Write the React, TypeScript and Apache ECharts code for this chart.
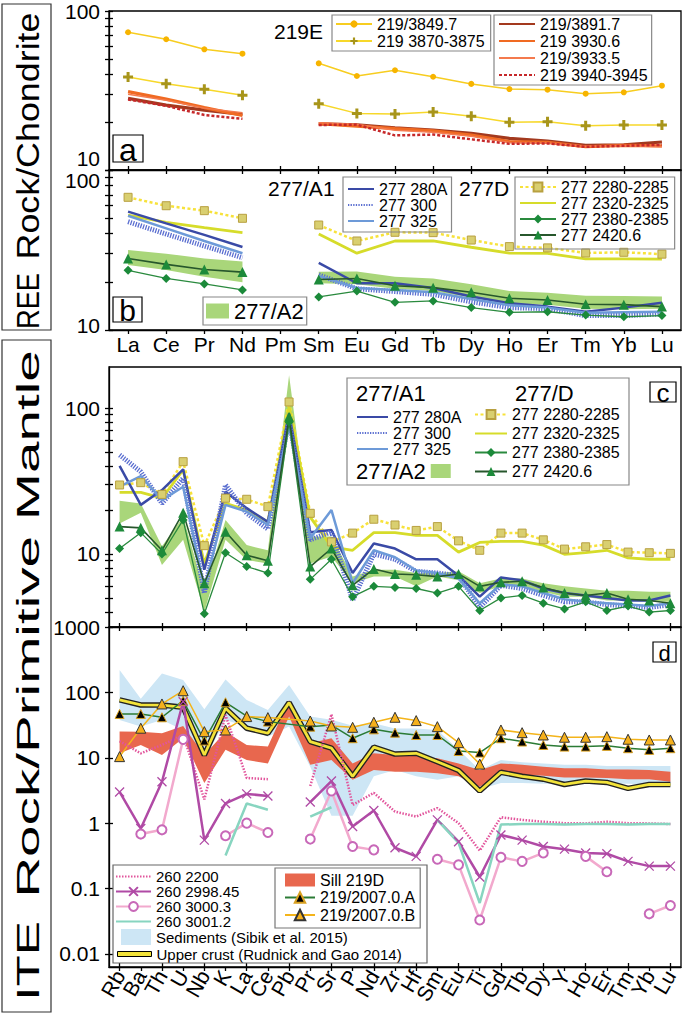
import React, { useEffect, useRef } from 'react';
import * as echarts from 'echarts';

// ---------- categories ----------
const REE_CATS = ['La', 'Ce', 'Pr', 'Nd', 'Pm', 'Sm', 'Eu', 'Gd', 'Tb', 'Dy', 'Ho', 'Er', 'Tm', 'Yb', 'Lu'];
const ITE_CATS = ['Rb', 'Ba', 'Th', 'U', 'Nb', 'K', 'La', 'Ce', 'Pb', 'Pr', 'Sr', 'P', 'Nd', 'Zr', 'Hf', 'Sm', 'Eu', 'Ti', 'Gd', 'Tb', 'Dy', 'Y', 'Ho', 'Er', 'Tm', 'Yb', 'Lu'];

// ---------- tick values / labels ----------
const REE_TICKS = [10, 20, 30, 40, 50, 60, 70, 80, 90, 100];
const REE_LABELS = [10, 100];
const C_TICKS = [4, 5, 6, 7, 8, 9, 10, 20, 30, 40, 50, 60, 70, 80, 90, 100];
const C_LABELS = [10, 100];
const D_TICKS = [0.01, 0.1, 1, 10, 100, 1000];
const D_LABELS = [0.01, 0.1, 1, 10, 100, 1000];

// ---------- panel a (219E, REE / chondrite) ----------
const A_3849_7 = [73.5, 66.4, 57.4, 53.9, null, 46.9, 39.0, 42.4, 38.6, 34.8, 32.3, 32.0, 30.2, 30.8, 33.9];
const A_3870_3875 = [38.5, 34.9, 32.2, 29.5, null, 26.1, 22.7, 22.5, 23.2, 21.8, 20.0, 20.1, 19.0, 19.2, 19.2];
const A_3891_7 = [28.2, 25.6, 23.8, 22.4, null, 19.5, 19.2, 18.4, 17.8, 17.0, 15.8, 15.2, 14.3, 14.4, 15.0];
const A_3930_6 = [31.1, 27.9, 24.7, 22.0, null, 19.6, 18.9, 18.2, 17.6, 16.6, 15.1, 14.9, 14.0, 14.3, 14.2];
const A_3933_5 = [30.0, 27.5, 24.5, 22.9, null, 19.8, 19.4, 17.8, 17.3, 16.3, 14.9, 14.8, 14.1, 14.2, 14.0];
const A_3940_3945 = [27.8, 25.3, 22.2, 21.0, null, 19.2, 19.3, 16.5, 16.7, 15.6, 14.6, 14.7, 14.0, 14.2, 14.4];

// ---------- panel b (277, REE / chondrite) ----------
const B_2280 = [67.5, 59.8, 55.7, 49.9, null, 45.3, 36.0, 40.8, 40.6, 36.5, 33.2, 32.6, 30.3, 30.6, 29.8];
const B_2320 = [52.3, 47.1, 43.6, 40.6, null, 39.8, 30.2, 36.0, 36.0, 32.9, 30.2, 30.1, 27.8, 27.8, 27.7];
const B_280A = [54.9, 46.4, 39.3, 33.0, null, 26.3, 19.6, 19.6, 18.3, 16.2, 14.7, 14.0, 13.0, 13.8, 14.8];
const B_300 = [47.5, 39.8, 33.5, 28.3, null, 22.1, 18.1, 17.4, 16.7, 15.0, 13.8, 13.6, 12.3, 12.3, 12.6];
const B_325 = [51.8, 43.2, 36.0, 30.2, null, 21.8, 18.3, 17.8, 17.2, 15.6, 14.3, 13.8, 12.8, 12.9, 13.0];
const B_2380 = [23.6, 21.0, 19.4, 17.8, null, 16.1, 17.5, 14.9, 15.2, 13.8, 12.9, 13.0, 12.4, 12.1, 12.3];
const B_2420 = [28.0, 25.7, 23.9, 23.0, null, 20.7, 21.0, 18.9, 18.4, 17.2, 15.8, 15.4, 14.5, 14.4, 14.0];
const B_A2_LOW = [25.5, 23.7, 21.5, 19.9, null, 19.6, 19.3, 18.1, 17.5, 15.9, 14.5, 14.4, 13.6, 13.5, 13.6];
const B_A2_HIGH = [31.6, 30.0, 28.0, 26.8, null, 23.1, 23.2, 21.5, 21.0, 19.3, 17.5, 17.1, 16.4, 16.3, 16.2];

// ---------- panel c (277, ITE / primitive mantle) ----------
const C_2280 = [29.7, 30.8, 25.6, 42.9, 11.4, 24.1, 23.7, 21.1, 110, 19.0, 12.1, 13.9, 17.3, 15.8, 14.5, 15.4, 12.3, 10.6, 13.9, 13.9, 12.5, 10.8, 11.2, 11.6, 10.3, 10.2, 10.1];
const C_2320 = [26.4, 26.4, 24.1, 37.6, 8.6, 22.2, 20.0, 16.6, 102, 17.9, 11.2, 10.6, 14.0, 14.0, 13.4, 13.4, 10.3, 12.0, 12.2, 12.2, 11.5, 9.95, 10.2, 10.6, 9.4, 9.2, 9.2];
const C_280A = [40.1, 21.7, 27.4, 38.0, 7.8, 26.7, 20.6, 16.6, 91.9, 14.1, 14.6, 7.4, 11.8, 10.9, 9.2, 9.2, 7.1, 5.1, 6.9, 6.6, 5.8, 5.4, 5.2, 5.0, 4.8, 4.8, 5.2];
const C_300 = [47.7, 36.6, 22.2, 33.0, 5.4, 29.7, 19.0, 14.8, 82.8, 12.5, 14.2, 4.8, 10.0, 9.2, 7.6, 7.4, 7.1, 4.3, 6.1, 5.8, 5.2, 4.7, 4.7, 4.5, 4.4, 4.3, 4.5];
const C_325 = [28.9, 34.2, 23.4, 28.9, 5.8, 21.7, 19.5, 15.8, 76.6, 12.8, 20.0, 6.3, 10.6, 9.5, 7.7, 7.4, 6.8, 4.6, 6.2, 6.0, 5.4, 4.9, 4.7, 4.6, 4.5, 4.4, 4.6];
const C_2380 = [10.9, 14.0, 10.0, 17.1, 3.9, 10.2, 8.2, 7.4, 80, 6.7, 9.2, 5.1, 6.0, 5.9, 5.8, 5.4, 6.0, 4.1, 5.0, 5.2, 4.6, 4.2, 4.7, 4.1, 4.4, 4.0, 4.1];
const C_2420 = [15.4, 15.1, 10.6, 19.2, 6.3, 14.2, 9.8, 9.0, 87, 8.2, 10.9, 6.1, 7.9, 7.3, 7.2, 7.0, 7.3, 6.0, 6.4, 6.5, 5.9, 5.4, 5.2, 5.4, 4.9, 4.8, 4.6];
const C_A2_LOW = [16.2, 19.2, 8.4, 12.5, 4.0, 12.5, 9.1, 8.6, 70.6, 8.6, 9.6, 6.3, 7.0, 7.0, 6.0, 7.0, 6.6, 5.4, 6.0, 6.0, 5.5, 5.1, 5.1, 4.8, 4.8, 4.7, 4.7];
const C_A2_HIGH = [23.2, 22.2, 11.3, 18.0, 5.6, 17.1, 11.5, 10.6, 168, 13.2, 13.2, 7.0, 7.8, 7.8, 7.4, 7.4, 7.6, 6.3, 6.8, 6.8, 6.3, 6.0, 5.8, 5.6, 5.6, 5.5, 5.5];

// ---------- panel d (219 / 260, ITE / primitive mantle) ----------
const D_SED_LOW = [37.8, 30.0, 37.8, 26.6, 9.2, 37.8, 30.0, 21.0, 30.0, 7.3, 1.3, 1.3, 5.2, 6.5, 5.2, 4.6, 5.2, 3.3, 4.1, 4.1, 4.0, 4.0, 4.0, 4.0, 4.0, 3.9, 3.8];
const D_SED_HIGH = [220, 80, 195, 155, 55, 158, 76.6, 53.8, 130, 42.6, 38, 31, 33.7, 28, 28, 26.6, 13.2, 6.5, 9.2, 8.5, 8.2, 7.8, 7.8, 7.5, 7.5, 7.5, 7.5];
const D_SILL_LOW = [11.7, 15.7, 11.0, 19.9, 4.1, 13.2, 9.2, 8.2, 42.6, 7.8, 9.2, 4.6, 6.5, 6.1, 6.1, 5.8, 5.2, 3.6, 5.5, 5.5, 5.3, 5.0, 5.0, 4.9, 4.7, 4.7, 4.3];
const D_SILL_HIGH = [25.1, 25.0, 23.7, 30.6, 11.0, 25.0, 15.7, 14.8, 76.6, 16.6, 19.9, 8.2, 11.7, 11.0, 10.6, 9.8, 8.2, 6.5, 8.2, 7.8, 7.3, 6.9, 6.9, 6.6, 6.6, 6.5, 6.1];
const D_UPPER_CRUST = [76.6, 64.2, 64.0, 59.1, 11.0, 57.0, 28.3, 23.7, 69.7, 17.7, 14.0, 5.2, 14.5, 11.4, 11.7, 8.7, 6.4, 3.1, 6.0, 5.2, 4.7, 3.9, 4.4, 4.2, 3.4, 3.9, 3.9];
const D_2007_A = [46.8, 46.8, 41.6, 74.8, 18.3, 70.5, 43.5, 35.7, null, 29.9, 31.6, 19.9, 27.2, 24.2, 22.3, 22.3, 12.7, 12.0, 19.9, 17.7, 15.7, 14.8, 14.8, 15.2, 14.0, 13.2, 14.0];
const D_2007_B = [10.4, 28.3, 66.5, 106, 25.1, 26.6, 42.6, 41.1, null, 36.5, 30.6, 29.2, 34.9, 41.6, 37.0, 29.9, 17.0, 8.0, 26.6, 24.2, 22.3, 20.6, 20.6, 21.0, 19.2, 18.7, 18.7];
const D_260_2200 = [18.0, 11.7, 15.7, 22.3, 2.3, 45.1, 4.9, 4.7, null, 3.7, 46.2, 1.9, 2.9, 1.5, 1.26, 1.7, 1.0, 0.38, 1.23, 1.12, 1.05, 1.0, 0.99, 1.05, 1.0, 0.99, 0.97];
const D_260_2998 = [3.0, 0.83, 4.3, 72, 0.55, 2.0, 2.8, 2.6, null, 2.1, 4.4, 0.89, 1.56, 0.42, 0.31, 1.12, 0.52, 0.15, 0.66, 0.55, 0.44, 0.40, 0.35, 0.34, 0.26, 0.22, 0.22];
const D_260_3000 = [null, 0.68, 0.79, 19.1, null, 0.64, 1.0, 0.72, null, 0.57, 3.1, 0.44, 0.39, null, null, 0.28, 0.23, 0.033, 0.30, 0.26, 0.35, null, 0.31, 0.18, null, 0.041, 0.055];
const D_260_3001 = [null, null, null, null, null, 0.32, 2.0, 1.6, null, 1.26, 1.75, null, null, null, null, 1.12, 0.5, 0.06, 0.95, 0.97, 0.97, 0.95, 0.97, 0.97, 0.95, 0.97, 0.97];

const FONT = 'Liberation Sans';
const PLUS = 'path://M3.5,0h3v3.5h3.5v3h-3.5v3.5h-3v-3.5h-3.5v-3h3.5z';
const CROSS = 'path://M0,0L10,10M0,10L10,0';

type LOpt = {
  color: string; width?: number; dash?: number[] | string; symbol?: string; size?: number;
  fill?: string; border?: string; borderWidth?: number; connect?: boolean; z?: number;
};

function mkLine(name: string, data: (number | null)[], xi: number, yi: number, o: LOpt) {
  return {
    type: 'line', name, data, xAxisIndex: xi, yAxisIndex: yi,
    symbol: o.symbol || 'none', symbolSize: o.size || 8, showSymbol: !!o.symbol,
    connectNulls: !!o.connect,
    lineStyle: { color: o.color, width: o.width ?? 2, type: o.dash || 'solid', cap: 'butt' },
    itemStyle: { color: o.fill || o.color, borderColor: o.border || o.fill || o.color, borderWidth: o.borderWidth ?? 0 },
    emphasis: { disabled: true }, silent: true, z: o.z ?? 3,
  };
}

function mkBand(name: string, lower: (number | null)[], upper: (number | null)[], xi: number, yi: number, color: string, stack: string) {
  const diff = upper.map((u, i) => (u == null || lower[i] == null ? null : (u as number) - (lower[i] as number)));
  return [
    { type: 'line', name: stack + ' base', data: lower, xAxisIndex: xi, yAxisIndex: yi, stack, symbol: 'none', showSymbol: false, lineStyle: { opacity: 0, width: 0 }, silent: true, z: 1 },
    { type: 'line', name, data: diff, xAxisIndex: xi, yAxisIndex: yi, stack, symbol: 'none', showSymbol: false, lineStyle: { opacity: 0, width: 0 }, areaStyle: { color, opacity: 1 }, itemStyle: { color }, silent: true, z: 1 },
  ];
}

const AX = { color: '#000', width: 1.3 };
const fmt = (v: number) => String(Math.round(v * 1000) / 1000);

function yPair(gi: number, min: number, max: number, ticks: number[], labels: number[], label: any) {
  return [
    {
      type: 'log', gridIndex: gi, min, max, logBase: 10, position: 'left',
      axisLine: { show: true, onZero: false, lineStyle: AX },
      axisTick: { show: true, inside: false, length: 4, customValues: ticks, lineStyle: AX },
      axisLabel: Object.assign({ show: true, customValues: labels, color: '#000', fontSize: 22, fontFamily: FONT, margin: 9, formatter: fmt }, label),
      splitLine: { show: false }, minorTick: { show: false }, minorSplitLine: { show: false },
    },
    {
      type: 'log', gridIndex: gi, min, max, logBase: 10, position: 'left',
      axisLine: { show: false, onZero: false },
      axisTick: { show: true, inside: true, length: 4, customValues: ticks, lineStyle: AX },
      axisLabel: { show: false }, splitLine: { show: false },
    },
  ];
}

function xAx(gi: number, cats: string[], inside: boolean, label: any) {
  return {
    type: 'category', gridIndex: gi, data: cats, position: 'bottom', boundaryGap: true,
    axisLine: { show: !inside, onZero: false, lineStyle: AX },
    axisTick: { show: true, inside, alignWithLabel: true, length: 4, lineStyle: AX },
    axisLabel: label || { show: false },
    splitLine: { show: false },
  };
}

const LEG_TXT = { color: '#000', fontFamily: FONT, fontSize: 16 };
// legend entry for a line drawn without markers: hide the marker in its key
const plain = (name: string) => ({ name, itemStyle: { opacity: 0 } });

export default function App() {
  const ref = useRef<HTMLDivElement>(null);
  useEffect(() => {
    if (!ref.current) return;
    const chart = echarts.init(ref.current, undefined, { renderer: 'svg' });

    const grid = [
      { left: 109, top: 11, width: 572, height: 159 },
      { left: 109, top: 170, width: 572, height: 160 },
      { left: 109, top: 367, width: 572, height: 260 },
      { left: 109, top: 627, width: 572, height: 340 },
    ].map((g) => Object.assign({ show: true, borderColor: '#000', borderWidth: 1.3, backgroundColor: 'transparent', containLabel: false, outerBoundsMode: 'none' }, g));

    const yAxis = [
      ...yPair(0, 10, 100, REE_TICKS, REE_LABELS, {
        formatter: (v: number) => (v < 50 ? '{lo|10}' : '{n|100}'),
        rich: { lo: { padding: [0, 0, 23, 0], fontSize: 21, fontFamily: FONT }, n: { fontSize: 21, fontFamily: FONT } },
      }),
      ...yPair(1, 10, 100, REE_TICKS, REE_LABELS, {
        formatter: (v: number) => (v < 50 ? '{lo|10}' : '{hi|100}'),
        rich: { lo: { padding: [0, 0, 10, 0], fontSize: 21, fontFamily: FONT }, hi: { padding: [21, 0, 0, 0], fontSize: 21, fontFamily: FONT } },
      }),
      ...yPair(2, 3.16, 191, C_TICKS, C_LABELS, { fontSize: 21 }),
      ...yPair(3, 0.0063, 1000, D_TICKS, D_LABELS, { fontSize: 21 }),
    ];

    const xAxis = [
      xAx(0, REE_CATS, false, null),
      xAx(0, REE_CATS, true, null),
      xAx(1, REE_CATS, false, { show: true, interval: 0, color: '#000', fontSize: 21, fontFamily: FONT, margin: 4 }),
      xAx(2, ITE_CATS, false, null),
      xAx(2, ITE_CATS, true, null),
      xAx(3, ITE_CATS, false, { show: true, interval: 0, rotate: 60, color: '#000', fontSize: 21, fontFamily: FONT, margin: 5 }),
      xAx(3, ITE_CATS, true, null),
    ];

    const S277 = (xi: number, yi: number, d: any) => [
      mkLine('277 2280-2285', d.p2280, xi, yi, { color: '#f7e23a', width: 2.5, dash: [3, 2.5], symbol: 'rect', size: 8, fill: '#d9cf70', border: '#b8a040', borderWidth: 1 }),
      mkLine('277 2320-2325', d.p2320, xi, yi, { color: '#d6dc2a', width: 2.8 }),
      mkLine('277 280A', d.p280A, xi, yi, { color: '#3a4aa6', width: 2.5 }),
      mkLine('277 300', d.p300, xi, yi, { color: '#5a6ed0', width: 5, dash: [1.3, 1.3] }),
      mkLine('277 325', d.p325, xi, yi, { color: '#6d9ad8', width: 2.5 }),
      mkLine('277 2380-2385', d.p2380, xi, yi, { color: '#2a8a3e', width: 1.3, symbol: 'diamond', size: 9, fill: '#1b8a3a' }),
      mkLine('277 2420.6', d.p2420, xi, yi, { color: '#27572c', width: 1.6, symbol: 'triangle', size: 10, fill: '#1d8a3a' }),
    ];

    const series: any[] = [
      // panel a
      mkLine('219/3849.7', A_3849_7, 0, 0, { color: '#f7cd20', width: 1.5, symbol: 'circle', size: 6, fill: '#f7b400' }),
      mkLine('219 3870-3875', A_3870_3875, 0, 0, { color: '#f7d82a', width: 1.5, symbol: PLUS, size: 10, fill: '#a8951a' }),
      mkLine('219/3891.7', A_3891_7, 0, 0, { color: '#a3391e', width: 3.2 }),
      mkLine('219 3930.6', A_3930_6, 0, 0, { color: '#f06a22', width: 3.2 }),
      mkLine('219/3933.5', A_3933_5, 0, 0, { color: '#f47a4e', width: 1.5 }),
      mkLine('219 3940-3945', A_3940_3945, 0, 0, { color: '#c6282a', width: 2.5, dash: [3, 2] }),
      // panel b
      ...mkBand('277/A2', B_A2_LOW, B_A2_HIGH, 2, 2, '#a9d67a', 'a2b'),
      ...S277(2, 2, { p2280: B_2280, p2320: B_2320, p280A: B_280A, p300: B_300, p325: B_325, p2380: B_2380, p2420: B_2420 }),
      // panel c
      ...mkBand('277/A2', C_A2_LOW, C_A2_HIGH, 3, 4, '#a9d67a', 'a2c'),
      ...S277(3, 4, { p2280: C_2280, p2320: C_2320, p280A: C_280A, p300: C_300, p325: C_325, p2380: C_2380, p2420: C_2420 }),
      // panel d
      ...mkBand('Sediments (Sibik et al. 2015)', D_SED_LOW, D_SED_HIGH, 5, 6, '#cde6f5', 'sed'),
      ...mkBand('Sill 219D', D_SILL_LOW, D_SILL_HIGH, 5, 6, '#e8674e', 'sill'),
      mkLine('upper crust outline', D_UPPER_CRUST, 5, 6, { color: '#222', width: 5.5 }),
      mkLine('Upper crust (Rudnick and Gao 2014)', D_UPPER_CRUST, 5, 6, { color: '#f2e33a', width: 2.8 }),
      mkLine('219/2007.0.A', D_2007_A, 5, 6, { color: '#2b7b35', width: 1.5, symbol: 'triangle', size: 9, fill: '#000', border: '#d9a020', borderWidth: 1, connect: true }),
      mkLine('219/2007.0.B', D_2007_B, 5, 6, { color: '#f4b41a', width: 1.5, symbol: 'triangle', size: 10, fill: '#f5b01c', border: '#333', borderWidth: 1, connect: true }),
      mkLine('260 2200', D_260_2200, 5, 6, { color: '#e2559c', width: 2.5, dash: [1.5, 1.5] }),
      mkLine('260 2998.45', D_260_2998, 5, 6, { color: '#b04aa5', width: 2.5, symbol: CROSS, size: 9, fill: '#b04aa5', border: '#b04aa5', borderWidth: 1.3 }),
      mkLine('260 3000.3', D_260_3000, 5, 6, { color: '#f2a9cd', width: 2.5, symbol: 'emptyCircle', size: 9, fill: '#c868b8' }),
      mkLine('260 3001.2', D_260_3001, 5, 6, { color: '#88d5c0', width: 2.5 }),
    ];

    const legBase = { orient: 'vertical', selectedMode: false, itemGap: 0, backgroundColor: 'transparent' };
    const D_TXT = Object.assign({}, LEG_TXT, { fontSize: 15 });
    const legend: any[] = [
      Object.assign({}, legBase, { left: 332, top: 15, padding: [1, 6, 2, 3], itemGap: 1, itemWidth: 36, itemHeight: 9, borderColor: '#888', borderWidth: 1.2, textStyle: Object.assign({ lineHeight: 16 }, LEG_TXT), data: ['219/3849.7', '219 3870-3875'] }),
      Object.assign({}, legBase, { left: 494, top: 15, padding: [1, 4, 2, 4], itemGap: 1, itemWidth: 36, itemHeight: 11, borderColor: '#888', borderWidth: 1.2, textStyle: Object.assign({ lineHeight: 16 }, LEG_TXT), data: ['219/3891.7', '219 3930.6', '219/3933.5', '219 3940-3945'].map(plain) }),
      Object.assign({}, legBase, { left: 343, top: 177, padding: [4, 4, 3, 4], itemWidth: 26, itemHeight: 10, borderColor: '#888', borderWidth: 1.2, textStyle: Object.assign({ lineHeight: 13 }, LEG_TXT), data: ['277 280A', '277 300', '277 325'].map(plain) }),
      Object.assign({}, legBase, { left: 515, top: 177, padding: [2, 6, 6, 4], itemWidth: 36, itemHeight: 11, borderColor: '#888', borderWidth: 1.2, textStyle: Object.assign({ lineHeight: 15 }, LEG_TXT), data: ['277 2280-2285', plain('277 2320-2325'), '277 2380-2385', '277 2420.6'] }),
      Object.assign({}, legBase, { left: 203, top: 297, padding: [3, 3, 3, 3], itemWidth: 23, itemHeight: 15, borderColor: '#888', borderWidth: 1.2, textStyle: Object.assign({}, LEG_TXT, { fontSize: 22, lineHeight: 19 }), data: [{ name: '277/A2', icon: 'rect' }] }),
      // panel c
      Object.assign({}, legBase, { left: 356, top: 409, padding: 0, itemWidth: 31, itemHeight: 10, textStyle: Object.assign({ lineHeight: 13 }, LEG_TXT), data: ['277 280A', '277 300', '277 325'].map(plain) }),
      Object.assign({}, legBase, { left: 356, top: 460, padding: 0, align: 'right', itemWidth: 20, itemHeight: 14, textStyle: Object.assign({}, LEG_TXT, { fontSize: 22, lineHeight: 20 }), data: [{ name: '277/A2', icon: 'rect' }] }),
      Object.assign({}, legBase, { left: 474, top: 405, padding: 0, itemWidth: 32, itemHeight: 11, textStyle: Object.assign({ lineHeight: 19 }, LEG_TXT), data: ['277 2280-2285', plain('277 2320-2325'), '277 2380-2385', '277 2420.6'] }),
      // panel d
      Object.assign({}, legBase, { left: 115, top: 869, padding: 0, itemWidth: 35, itemHeight: 11, textStyle: Object.assign({ lineHeight: 14.2 }, D_TXT), data: [plain('260 2200'), '260 2998.45', '260 3000.3', plain('260 3001.2')] }),
      Object.assign({}, legBase, { left: 121, top: 929, padding: 0, itemWidth: 30, itemHeight: 16, textStyle: Object.assign({ lineHeight: 16 }, D_TXT), data: [{ name: 'Sediments (Sibik et al. 2015)', icon: 'rect' }] }),
      Object.assign({}, legBase, { left: 117, top: 946, padding: 0, itemWidth: 34, itemHeight: 5, textStyle: Object.assign({ lineHeight: 16 }, D_TXT), data: [{ name: 'Upper crust (Rudnick and Gao 2014)', icon: 'rect', itemStyle: { color: '#f2e33a', borderColor: '#000', borderWidth: 1 } }] }),
      Object.assign({}, legBase, { left: 275, top: 868, padding: [4, 5, 5, 9], itemGap: 1.5, itemWidth: 30, itemHeight: 13, borderColor: '#777', borderWidth: 1.2, textStyle: Object.assign({ lineHeight: 15 }, LEG_TXT), data: [{ name: 'Sill 219D', icon: 'rect' }, '219/2007.0.A', '219/2007.0.B'] }),
    ];

    const txt = (x: number, y: number, text: string, size: number, extra: any = {}) => Object.assign({
      type: 'text', x, y, silent: true, z: 100,
      style: { text, fontSize: size, fontFamily: FONT, fill: '#000', align: extra.align || 'left', verticalAlign: 'middle' },
    }, extra.el || {});
    const box = (x: number, y: number, w: number, h: number, stroke = '#000', lw = 1.2) => ({
      type: 'rect', silent: true, z: 99, shape: { x, y, width: w, height: h }, style: { fill: 'none', stroke, lineWidth: lw },
    });
    const letterBox = (x: number, y: number, w: number, h: number, t: string, size: number) => [
      { type: 'rect', silent: true, z: 99, shape: { x, y, width: w, height: h }, style: { fill: '#fff', stroke: '#000', lineWidth: 1.2 } },
      txt(x + w / 2, y + h / 2 + 1, t, size, { align: 'center' }),
    ];

    const graphic: any[] = [
      // y titles
      box(2, 4, 49, 326, '#333'),
      box(2, 340, 49, 672, '#333'),
      txt(28, 301, 'REE', 32, { align: 'center', el: { rotation: Math.PI / 2, scaleX: 0.85 } }),
      txt(28, 136, 'Rock/Chondrite', 32, { align: 'center', el: { rotation: Math.PI / 2, scaleX: 1.12 } }),
      txt(28, 961, 'ITE', 32, { align: 'center', el: { rotation: Math.PI / 2, scaleX: 1.6 } }),
      txt(28, 624, 'Rock/Primitive Mantle', 32, { align: 'center', el: { rotation: Math.PI / 2, scaleX: 1.77 } }),
      // headers
      txt(274, 31, '219E', 21),
      txt(268, 188, '277/A1', 21),
      txt(459, 188, '277D', 21),
      box(347, 378, 282, 107, '#888'),
      txt(356, 393, '277/A1', 22),
      txt(515, 393, '277/D', 22),
      box(113, 865, 314, 98, '#666'),
      // panel letters
      ...letterBox(113, 135, 30, 27, 'a', 32),
      ...letterBox(113, 297, 29, 25, 'b', 30),
      ...letterBox(650, 382, 26, 20, 'c', 26),
      ...letterBox(653, 642, 23, 20, 'd', 22),
    ];

    chart.setOption({
      animation: false,
      textStyle: { fontFamily: FONT },
      grid, xAxis, yAxis, series, legend, graphic,
    });
    return () => chart.dispose();
  }, []);
  return <div ref={ref} style={{ position: 'absolute', left: 0, top: 0, width: 685, height: 1018, background: '#fff' }} />;
}
